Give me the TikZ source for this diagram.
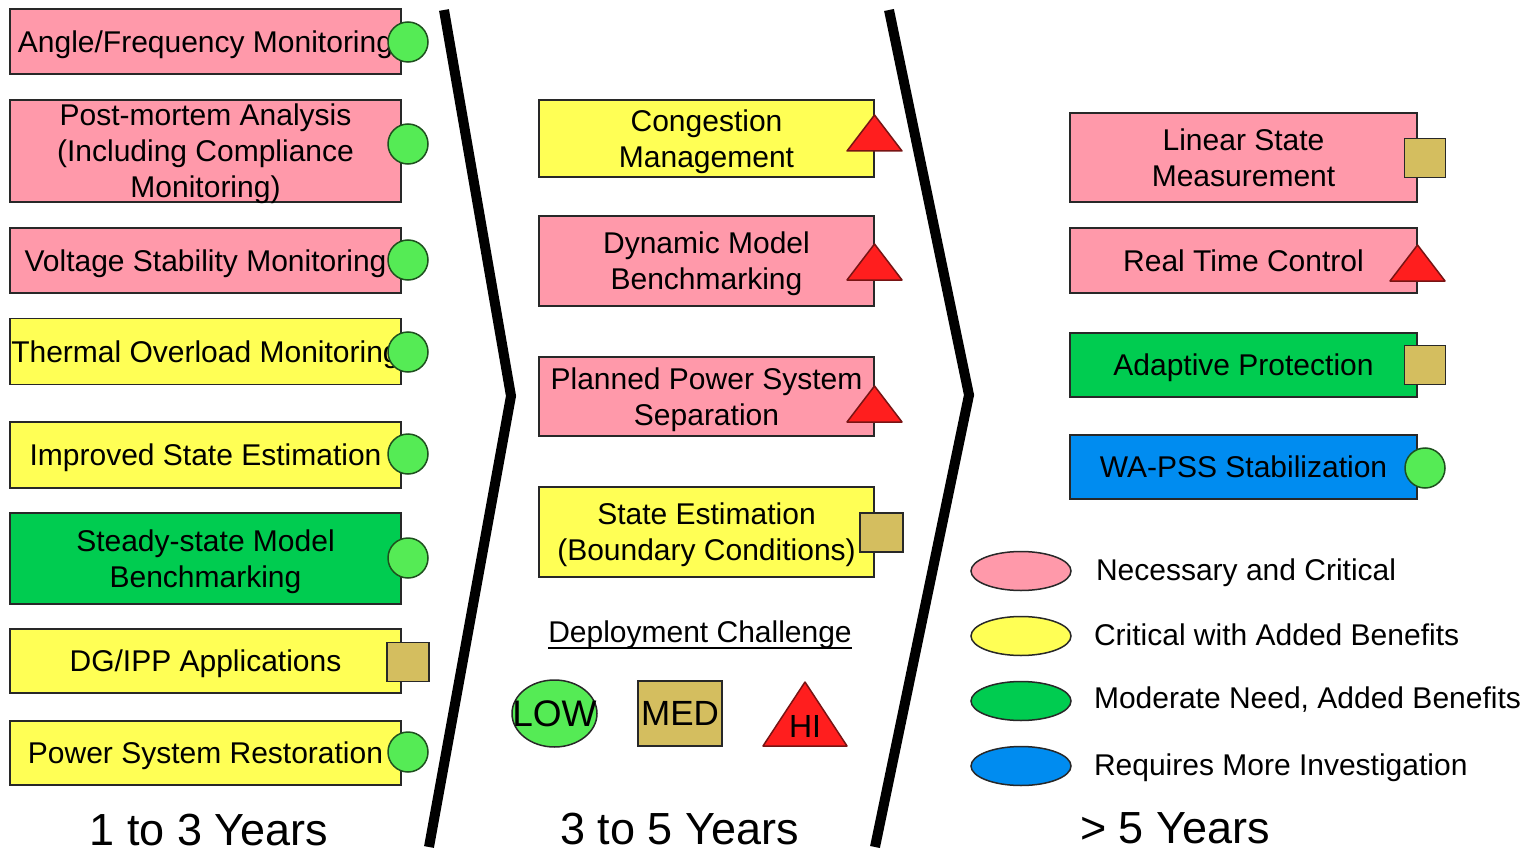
\documentclass[tikz,border=0pt]{standalone}
\usepackage{fontspec}
\setmainfont{Liberation Sans}
\usetikzlibrary{shapes.geometric,calc}
\definecolor{critpink}{RGB}{255,153,170}
\definecolor{benyellow}{RGB}{255,255,85}
\definecolor{modgreen}{RGB}{0,204,80}
\definecolor{invblue}{RGB}{0,140,240}
\definecolor{lowgreen}{RGB}{85,235,85}
\definecolor{medtan}{RGB}{212,190,95}
\definecolor{hired}{RGB}{255,30,30}
\definecolor{edge}{RGB}{40,40,40}
\definecolor{lowedge}{RGB}{30,80,30}
\definecolor{hiedge}{RGB}{120,20,20}
\begin{document}
\begin{tikzpicture}[x=1pt,y=-1pt,
  every node/.style={inner sep=0pt,outer sep=0pt},
  labelfont/.style={font=\fontsize{30}{36}\selectfont},
  taskbox/.style={labelfont,align=center,draw=edge,line width=1.8pt,text depth=0pt},
  leftcol/.style={taskbox,minimum width=391pt},
  midcol/.style={taskbox,minimum width=335pt},
  rightcol/.style={taskbox,minimum width=347pt},
  lowmark/.style={circle,draw=lowedge,fill=lowgreen,line width=1.5pt,minimum size=40pt},
  medmark/.style={rectangle,draw=edge,fill=medtan,line width=1.5pt,minimum width=42pt,minimum height=39pt},
  himark/.pic={\draw[draw=hiedge,fill=hired,line width=1.5pt,line join=round]
      (-27.5,0) -- (0,-36) -- (27.5,0) -- cycle;},
  phasesep/.style={line width=10pt,line join=miter},
  yeartitle/.style={font=\fontsize{45}{54}\selectfont,anchor=base},
  keytext/.style={labelfont,anchor=base west},
  keyshape/.style={ellipse,draw=edge,line width=1.5pt,minimum width=100pt,minimum height=39pt}
]
\useasboundingbox (0,0) rectangle (1533,853);
\fill[white] (0,0) rectangle (1533,853);

% phase separators
\draw[phasesep] (444,10) -- (511,396) -- (429,847);
\draw[phasesep] (889,10) -- (969,395) -- (875,847);

% 1 to 3 years
\node[leftcol,fill=critpink,minimum height=65pt] (afm) at (205.5,41.5) {Angle/Frequency Monitoring};
\node[leftcol,fill=critpink,minimum height=102pt] (pma) at (205.5,151) {Post-mortem Analysis\\(Including Compliance\\Monitoring)};
\node[leftcol,fill=critpink,minimum height=65pt] (vsm) at (205.5,260.5) {Voltage Stability Monitoring};
\node[leftcol,fill=benyellow,minimum height=66pt] (tom) at (205.5,351.5) {Thermal Overload Monitoring};
\node[leftcol,fill=benyellow,minimum height=66pt] (ise) at (205.5,455) {Improved State Estimation};
\node[leftcol,fill=modgreen,minimum height=91pt] (ssm) at (205.5,558.5) {Steady-state Model\\Benchmarking};
\node[leftcol,fill=benyellow,minimum height=64pt] (dga) at (205.5,661) {DG/IPP Applications};
\node[leftcol,fill=benyellow,minimum height=64pt] (psr) at (205.5,753) {Power System Restoration};

\node[lowmark] (afmk) at (408,42) {};
\node[lowmark] (pmak) at (408,144) {};
\node[lowmark] (vsmk) at (408,260) {};
\node[lowmark] (tomk) at (408,352) {};
\node[lowmark] (isek) at (408,454) {};
\node[lowmark] (ssmk) at (408,558) {};
\node[medmark] (dgak) at (408,662) {};
\node[lowmark] (psrk) at (408,752) {};

% 3 to 5 years
\node[midcol,fill=benyellow,minimum height=77pt] (cgm) at (706.5,138.5) {Congestion\\Management};
\node[midcol,fill=critpink,minimum height=90pt] (dmb) at (706.5,261) {Dynamic Model\\Benchmarking};
\node[midcol,fill=critpink,minimum height=79pt] (pps) at (706.5,396.5) {Planned Power System\\Separation};
\node[midcol,fill=benyellow,minimum height=90pt] (sebc) at (706.5,532) {State Estimation\\(Boundary Conditions)};

\pic (cgmk) at (874.5,151) {himark};
\pic (dmbk) at (874.5,280) {himark};
\pic (ppsk) at (874.5,422) {himark};
\node[medmark,minimum width=43pt] (sebck) at (881.5,532.5) {};

% deployment challenge key
\node[labelfont,anchor=base] (dep) at (700,642) {Deployment Challenge};
\draw[line width=1.6pt] ($(dep.base west)+(0,6)$) -- ($(dep.base east)+(0,6)$);
\node[ellipse,draw=edge,fill=lowgreen,line width=1.5pt,minimum width=85pt,minimum height=67pt] (lowkey) at (554.5,713.5) {};
\node[font=\fontsize{37}{40}\selectfont,text depth=0pt] (lowtxt) at (lowkey.center) {LOW};
\node[medmark,minimum width=84pt,minimum height=65pt] (medkey) at (680,713.5) {};
\node[font=\fontsize{35}{40}\selectfont,text depth=0pt] (medtxt) at (medkey.center) {MED};
\draw[draw=hiedge,fill=hired,line width=1.5pt,line join=round] (763,746) -- (805,682) -- (847,746) -- cycle;
\node[font=\fontsize{32}{36}\selectfont,anchor=base] (hitxt) at (805,737) {HI};

% more than 5 years
\node[rightcol,fill=critpink,minimum height=89pt] (lsm) at (1243.5,157.5) {Linear State\\Measurement};
\node[rightcol,fill=critpink,minimum height=65pt] (rtc) at (1243.5,260.5) {Real Time Control};
\node[rightcol,fill=modgreen,minimum height=64pt] (adp) at (1243.5,365) {Adaptive Protection};
\node[rightcol,fill=invblue,minimum height=64pt] (wap) at (1243.5,467) {WA-PSS Stabilization};

\node[medmark,minimum width=41pt] (lsmk) at (1425,158) {};
\pic (rtck) at (1417.5,281) {himark};
\node[medmark,minimum width=41pt] (adpk) at (1425,365) {};
\node[lowmark] (wapk) at (1425,468) {};

% colour key
\node[keyshape,fill=critpink] (kcrit) at (1021,571) {};
\node[keytext] (kcritt) at (1096,580) {Necessary and Critical};
\node[keyshape,fill=benyellow] (kben) at (1021,636) {};
\node[keytext] (kbent) at (1094,645) {Critical with Added Benefits};
\node[keyshape,fill=modgreen] (kmod) at (1021,701) {};
\node[keytext] (kmodt) at (1094,708) {Moderate Need, Added Benefits};
\node[keyshape,fill=invblue] (kinv) at (1021,766) {};
\node[keytext] (kinvt) at (1094,775) {Requires More Investigation};

% horizons
\node[yeartitle] (y13) at (209,845) {1 to 3 Years};
\node[yeartitle] (y35) at (679.5,844) {3 to 5 Years};
\node[yeartitle] (y5p) at (1175,843) {> 5 Years};
\end{tikzpicture}
\end{document}
